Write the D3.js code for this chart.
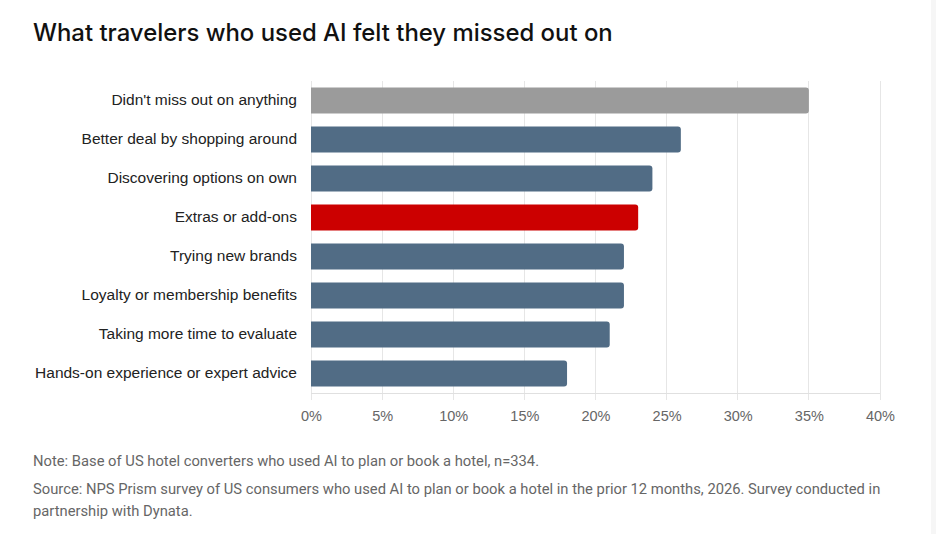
<!DOCTYPE html>
<html>
<head>
<meta charset="utf-8">
<script src="https://cdn.jsdelivr.net/npm/d3@7/dist/d3.min.js"></script>
<style>
  html, body { margin: 0; padding: 0; background: #ffffff; }
  svg { display: block; }
</style>
</head>
<body>
<svg id="chart" width="936" height="534"></svg>
<script>
const categories = [
  "Didn't miss out on anything",
  "Better deal by shopping around",
  "Discovering options on own",
  "Extras or add-ons",
  "Trying new brands",
  "Loyalty or membership benefits",
  "Taking more time to evaluate",
  "Hands-on experience or expert advice"
];
const values = [35, 26, 24, 23, 22, 22, 21, 18];
const barColors = ["#9b9b9b", "#516c85", "#516c85", "#cc0000", "#516c85", "#516c85", "#516c85", "#516c85"];
const tickValues = [0, 5, 10, 15, 20, 25, 30, 35, 40];
const titleText = "What travelers who used AI felt they missed out on";
const noteLines = [
  "Note: Base of US hotel converters who used AI to plan or book a hotel, n=334.",
  "Source: NPS Prism survey of US consumers who used AI to plan or book a hotel in the prior 12 months, 2026. Survey conducted in",
  "partnership with Dynata."
];

const svg = d3.select("#chart");
const W = 936, H = 534;

// light strip at right edge
svg.append("rect").attr("x", 931).attr("y", 0).attr("width", 5).attr("height", H).attr("fill", "#f6f6f6");

const x = d3.scaleLinear().domain([0, 40]).range([311, 880]);
const y = d3.scaleBand().domain(categories).range([81, 393]).paddingInner(0.33).paddingOuter(0.165);

// Title
const title = svg.append("text")
  .attr("x", 33).attr("y", 41)
  .attr("font-family", "Inter, 'Noto Sans', sans-serif")
  .attr("font-weight", 500)
  .attr("font-size", 22)
  .attr("fill", "#111111")
  .text(titleText);
{
  const w = title.node().getComputedTextLength();
  title.attr("font-size", 22 * 580 / w);
}

// Gridlines
const grid = svg.append("g");
grid.selectAll("line").data(tickValues).join("line")
  .attr("x1", d => x(d)).attr("x2", d => x(d))
  .attr("y1", 81).attr("y2", 400)
  .attr("stroke", "#e6e6e6").attr("stroke-width", 1)
  .attr("shape-rendering", "crispEdges");

// bottom axis line
svg.append("line")
  .attr("x1", x(0)).attr("x2", x(40)).attr("y1", 393).attr("y2", 393)
  .attr("stroke", "#e0e0e0").attr("stroke-width", 1).attr("shape-rendering", "crispEdges");

// Axis labels via d3 axis
const xAxis = d3.axisBottom(x).tickValues(tickValues).tickFormat(d => d + "%").tickSize(0).tickPadding(0);
const axG = svg.append("g").attr("transform", "translate(0,411)").call(xAxis);
axG.select(".domain").remove();
axG.selectAll("text")
  .attr("font-family", "'Liberation Sans', Arial, sans-serif")
  .attr("font-size", 14.5)
  .attr("fill", "#666666")
  .attr("dy", "0.71em");

// Bars with rounded right corners
const r = 3;
function barPath(d, i) {
  const x0 = x(0), x1 = x(values[i]);
  const y0 = y(d), h = y.bandwidth();
  return `M${x0},${y0}H${x1 - r}Q${x1},${y0} ${x1},${y0 + r}V${y0 + h - r}Q${x1},${y0 + h} ${x1 - r},${y0 + h}H${x0}Z`;
}
svg.append("g").selectAll("path").data(categories).join("path")
  .attr("d", (d, i) => barPath(d, i))
  .attr("fill", (d, i) => barColors[i]);

// Category labels via d3 axis
const yAxis = d3.axisLeft(y).tickSize(0).tickPadding(0);
const ayG = svg.append("g").attr("transform", "translate(297,0)").call(yAxis);
ayG.select(".domain").remove();
const labs = ayG.selectAll("text")
  .attr("font-family", "'Liberation Sans', Arial, sans-serif")
  .attr("font-size", 14)
  .attr("fill", "#222222");
{
  const w = labs.nodes()[7].getComputedTextLength();
  labs.attr("font-size", 14 * 262 / w);
}

// Notes
const noteY = [466, 494, 516];
const notes = svg.append("g");
noteLines.forEach((t, i) => {
  notes.append("text")
    .attr("x", 33).attr("y", noteY[i])
    .attr("font-family", "'Roboto', 'Liberation Sans', sans-serif")
    .attr("font-size", 13)
    .attr("fill", "#666666")
    .text(t);
});
{
  const n0 = notes.selectAll("text").nodes();
  const w1 = n0[1].getComputedTextLength();
  notes.selectAll("text").attr("font-size", 13 * 848 / w1);
}
</script>
</body>
</html>
